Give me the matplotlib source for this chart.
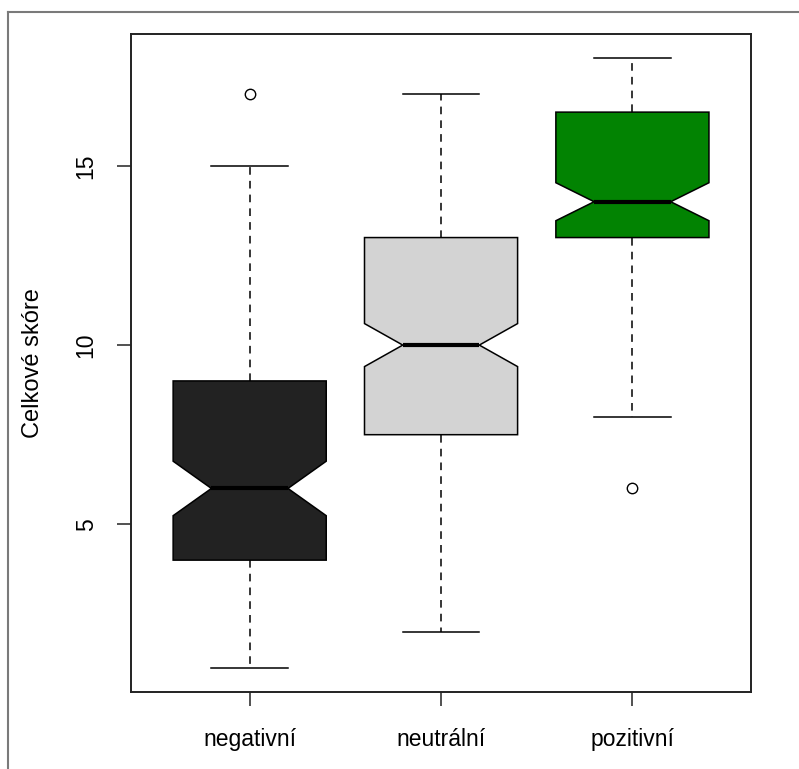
"""Notched boxplot of total score by sentiment group."""

import matplotlib

matplotlib.use("Agg")
import matplotlib.pyplot as plt
from matplotlib.lines import Line2D

plt.rcParams["font.family"] = ["Liberation Sans", "DejaVu Sans"]

# Five-number summaries per group, plus notch limits and outliers
groups = ["negativní", "neutrální", "pozitivní"]
whisker_low = [1, 2, 8]
q1 = [4, 7.5, 13]
median = [6, 10, 14]
q3 = [9, 13, 16.5]
whisker_high = [15, 17, 18]
notch_low = [5.24, 9.40, 13.47]
notch_high = [6.76, 10.60, 14.53]
outliers = [[17], [], [6]]
fill_colors = ["#222222", "#d3d3d3", "#028302"]

stats = []
for i, name in enumerate(groups):
    stats.append({
        "label": name,
        "whislo": whisker_low[i],
        "q1": q1[i],
        "med": median[i],
        "q3": q3[i],
        "whishi": whisker_high[i],
        "cilo": notch_low[i],
        "cihi": notch_high[i],
        "fliers": outliers[i],
    })

fig = plt.figure(figsize=(7.99, 7.69), dpi=100)
ax = fig.add_axes([0.164, 0.1001, 0.776, 0.8557])

bp = ax.bxp(
    stats,
    positions=[1, 2, 3],
    widths=0.8,
    shownotches=True,
    patch_artist=True,
    boxprops=dict(edgecolor="black", linewidth=1.1),
    medianprops=dict(color="black", linewidth=3.0, solid_capstyle="butt"),
    whiskerprops=dict(color="black", linewidth=1.1, linestyle=(0, (5, 4))),
    capprops=dict(color="black", linewidth=1.1),
    flierprops=dict(marker="o", markerfacecolor="none", markeredgecolor="black",
                    markersize=7.5, markeredgewidth=1.0),
)
for patch, color in zip(bp["boxes"], fill_colors):
    patch.set_facecolor(color)

ax.set_xlim(0.38, 3.62)
ax.set_ylim(0.32, 18.68)
ax.set_yticks([5, 10, 15])
ax.set_yticklabels(["5", "10", "15"], rotation=90, va="center")
ax.set_ylabel("Celkové skóre", fontsize=17, labelpad=22)

ax.tick_params(axis="both", labelsize=16.5, length=10, width=1.1,
               colors="#222222", labelcolor="black")
ax.tick_params(axis="x", pad=16)
ax.tick_params(axis="y", pad=14)
for spine in ax.spines.values():
    spine.set_linewidth(1.4)
    spine.set_color("#222222")

# Outer device frame (top and left edges only visible)
fig.add_artist(Line2D([0.010, 0.010], [0.0, 0.9844], transform=fig.transFigure,
                      color="#7a7a7a", linewidth=1.5))
fig.add_artist(Line2D([0.010, 1.0], [0.9844, 0.9844], transform=fig.transFigure,
                      color="#7a7a7a", linewidth=1.5))

fig.savefig("out.png", dpi=100, facecolor="white")
